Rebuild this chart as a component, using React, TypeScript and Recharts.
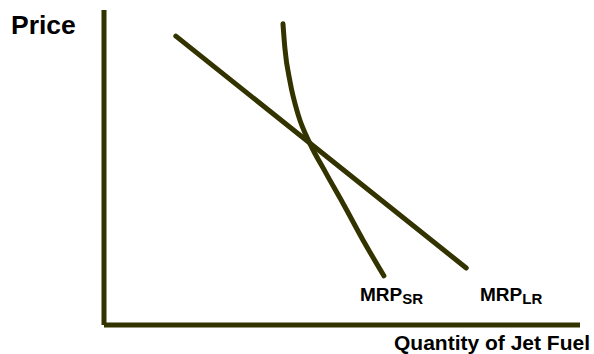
import React from "react";
import { ComposedChart, Line, XAxis, YAxis } from "recharts";

// Long-run MRP (straight, flatter)
const mrpLR = [
  { x: 15.1, y: 91.7 },
  { x: 76.1, y: 18.1 },
];

// Short-run MRP (steeper, slightly curved)
const mrpSR = [
  { x: 37.6, y: 95.6 },
  { x: 38.0, y: 87.9 },
  { x: 39.1, y: 77.1 },
  { x: 40.8, y: 66.7 },
  { x: 43.3, y: 57.5 },
  { x: 46.6, y: 48.3 },
  { x: 50.4, y: 38.1 },
  { x: 54.4, y: 27.0 },
  { x: 58.8, y: 15.6 },
];

const yLabel = "Price";
const xLabel = "Quantity of Jet Fuel";
const srLabel = ["MRP", "SR"];
const lrLabel = ["MRP", "LR"];

const COLOR = "#333300";
const FONT = "'Liberation Sans', Arial, Helvetica, sans-serif";

export default function App() {
  return (
    <div style={{ position: "absolute", left: 0, top: 0, background: "#fff" }}>
      <ComposedChart
        width={594}
        height={354}
        margin={{ top: 10, right: 14, bottom: 0, left: 0 }}
      >
        <XAxis
          type="number"
          dataKey="x"
          domain={[0, 100]}
          allowDataOverflow
          height={29}
          tick={false}
          tickLine={false}
          axisLine={{ stroke: COLOR, strokeWidth: 5 }}
        />
        <YAxis
          type="number"
          dataKey="y"
          domain={[0, 100]}
          allowDataOverflow
          width={104}
          tick={false}
          tickLine={false}
          axisLine={{ stroke: COLOR, strokeWidth: 5 }}
        />
        <Line
          data={mrpLR}
          dataKey="y"
          type="linear"
          stroke={COLOR}
          strokeWidth={5}
          strokeLinecap="round"
          dot={false}
          activeDot={false}
          isAnimationActive={false}
        />
        <Line
          data={mrpSR}
          dataKey="y"
          type="monotone"
          stroke={COLOR}
          strokeWidth={5}
          strokeLinecap="round"
          dot={false}
          activeDot={false}
          isAnimationActive={false}
        />
        <text x={11} y={34} fontFamily={FONT} fontWeight="bold" fontSize={26.5} fill="#000">
          {yLabel}
        </text>
        <text x={590} y={349.5} textAnchor="end" fontFamily={FONT} fontWeight="bold" fontSize={21} fill="#000">
          {xLabel}
        </text>
        <text x={360} y={301} fontFamily={FONT} fontWeight="bold" fontSize={19} fill="#000">
          <tspan>{srLabel[0]}</tspan>
          <tspan fontSize={15} dy={3}>{srLabel[1]}</tspan>
        </text>
        <text x={480} y={301} fontFamily={FONT} fontWeight="bold" fontSize={19} fill="#000">
          <tspan>{lrLabel[0]}</tspan>
          <tspan fontSize={15} dy={3}>{lrLabel[1]}</tspan>
        </text>
      </ComposedChart>
    </div>
  );
}
